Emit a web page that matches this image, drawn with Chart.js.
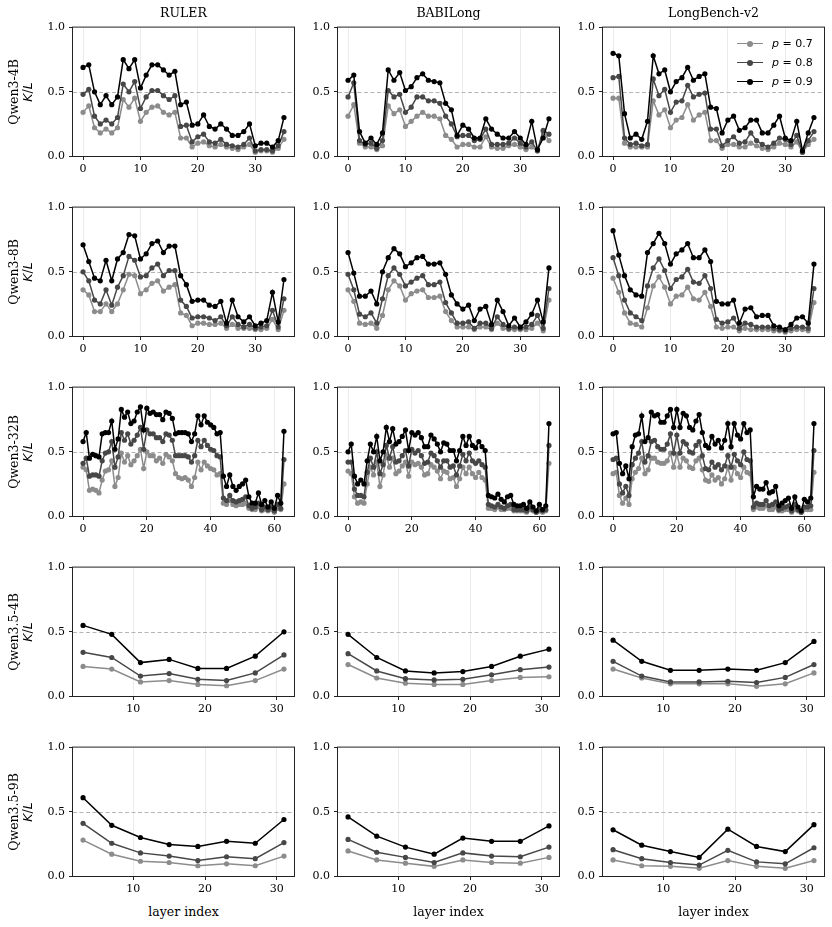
<!DOCTYPE html>
<html>
<head>
<meta charset="utf-8">
<title>K/L per layer</title>
<script src="https://cdn.jsdelivr.net/npm/chart.js@4.4.0/dist/chart.umd.min.js"></script>
<style>
  body { margin: 0; background: #fff; }
  #fig { position: relative; width: 832px; height: 927px; overflow: hidden; font-family: "DejaVu Serif", serif; color: #000; }
  #fig canvas { position: absolute; }
  .col-title { position: absolute; top: 5px; font-size: 12.5px; line-height: 16px; transform: translateX(-50%); white-space: nowrap; }
  .row-label { position: absolute; transform: translate(-50%, -50%) rotate(-90deg); white-space: nowrap; font-size: 12.5px; line-height: 14px; text-align: center; }
  .row-label .math { font-family: "DejaVu Sans", sans-serif; font-style: italic; }
  .x-label { position: absolute; top: 904px; font-size: 12.5px; line-height: 16px; transform: translateX(-50%); white-space: nowrap; }
  .legend { position: absolute; font-family: "DejaVu Sans", sans-serif; font-size: 11px; }
  .legend .item { display: flex; align-items: center; height: 19px; }
  .legend .swatch { position: relative; width: 26px; height: 10px; margin-right: 9px; }
  .legend .swatch::before { content: ""; position: absolute; left: 0; right: 0; top: 4px; height: 1.5px; background: var(--c); }
  .legend .swatch::after { content: ""; position: absolute; left: 10px; top: 2px; width: 6px; height: 6px; border-radius: 50%; background: var(--c); }
</style>
</head>
<body>
<div id="fig"></div>
<script>
/* Labels and axes */

const benchmarks = ["RULER", "BABILong", "LongBench-v2"];
const models = ["Qwen3-4B", "Qwen3-8B", "Qwen3-32B", "Qwen3.5-4B", "Qwen3.5-9B"];
const pValues = ["0.7", "0.8", "0.9"];

const layersQwen3 = [0, 1, 2, 3, 4, 5, 6, 7, 8, 9, 10, 11, 12, 13, 14, 15, 16, 17, 18, 19, 20, 21, 22, 23, 24, 25, 26, 27, 28, 29, 30, 31, 32, 33, 34, 35];
const layersQwen3_32B = [0, 1, 2, 3, 4, 5, 6, 7, 8, 9, 10, 11, 12, 13, 14, 15, 16, 17, 18, 19, 20, 21, 22, 23, 24, 25, 26, 27, 28, 29, 30, 31, 32, 33, 34, 35, 36, 37, 38, 39, 40, 41, 42, 43, 44, 45, 46, 47, 48, 49, 50, 51, 52, 53, 54, 55, 56, 57, 58, 59, 60, 61, 62, 63];
const layersQwen35 = [3, 7, 11, 15, 19, 23, 27, 31];

const xTicksQwen3 = [0, 10, 20, 30];
const xTicks32B = [0, 20, 40, 60];
const xTicksQwen35 = [10, 20, 30];
const yTicks = [0, 0.5, 1];

/* Qwen3-4B */

const ruler4b_p07 = [0.34, 0.39, 0.22, 0.18, 0.21, 0.18, 0.22, 0.44, 0.38, 0.45, 0.27, 0.34, 0.38, 0.39, 0.34, 0.32, 0.34, 0.14, 0.14, 0.07, 0.10, 0.11, 0.08, 0.07, 0.09, 0.07, 0.06, 0.05, 0.07, 0.09, 0.03, 0.04, 0.04, 0.03, 0.06, 0.13];
const ruler4b_p08 = [0.48, 0.52, 0.31, 0.25, 0.28, 0.25, 0.30, 0.56, 0.50, 0.58, 0.37, 0.46, 0.51, 0.51, 0.47, 0.44, 0.47, 0.23, 0.24, 0.11, 0.15, 0.17, 0.11, 0.10, 0.13, 0.09, 0.08, 0.07, 0.09, 0.14, 0.04, 0.05, 0.05, 0.04, 0.08, 0.19];
const ruler4b_p09 = [0.69, 0.71, 0.50, 0.40, 0.47, 0.40, 0.46, 0.75, 0.68, 0.75, 0.53, 0.63, 0.71, 0.71, 0.67, 0.63, 0.66, 0.40, 0.42, 0.24, 0.25, 0.32, 0.23, 0.21, 0.25, 0.21, 0.16, 0.16, 0.19, 0.25, 0.08, 0.10, 0.10, 0.07, 0.12, 0.30];

const babi4b_p07 = [0.31, 0.40, 0.10, 0.07, 0.07, 0.05, 0.08, 0.39, 0.33, 0.36, 0.23, 0.27, 0.31, 0.34, 0.31, 0.31, 0.29, 0.16, 0.13, 0.07, 0.09, 0.09, 0.07, 0.07, 0.15, 0.07, 0.06, 0.06, 0.08, 0.09, 0.07, 0.05, 0.07, 0.04, 0.19, 0.12];
const babi4b_p08 = [0.46, 0.57, 0.12, 0.09, 0.10, 0.06, 0.12, 0.51, 0.46, 0.48, 0.34, 0.38, 0.46, 0.46, 0.43, 0.43, 0.41, 0.31, 0.25, 0.15, 0.16, 0.16, 0.12, 0.13, 0.21, 0.09, 0.09, 0.09, 0.10, 0.14, 0.10, 0.07, 0.11, 0.04, 0.20, 0.17];
const babi4b_p09 = [0.59, 0.63, 0.19, 0.10, 0.14, 0.09, 0.18, 0.67, 0.59, 0.65, 0.51, 0.54, 0.61, 0.64, 0.59, 0.58, 0.57, 0.41, 0.36, 0.16, 0.24, 0.21, 0.14, 0.14, 0.29, 0.21, 0.17, 0.14, 0.14, 0.19, 0.14, 0.09, 0.27, 0.05, 0.14, 0.29];

const lb4b_p07 = [0.45, 0.45, 0.10, 0.07, 0.07, 0.07, 0.07, 0.43, 0.32, 0.36, 0.22, 0.28, 0.30, 0.40, 0.28, 0.32, 0.34, 0.12, 0.12, 0.06, 0.09, 0.09, 0.07, 0.07, 0.10, 0.08, 0.06, 0.05, 0.07, 0.10, 0.09, 0.07, 0.11, 0.03, 0.09, 0.13];
const lb4b_p08 = [0.61, 0.62, 0.14, 0.09, 0.10, 0.08, 0.09, 0.60, 0.47, 0.52, 0.34, 0.42, 0.43, 0.55, 0.46, 0.48, 0.49, 0.21, 0.21, 0.08, 0.12, 0.15, 0.10, 0.11, 0.18, 0.12, 0.09, 0.07, 0.10, 0.14, 0.13, 0.09, 0.16, 0.03, 0.12, 0.19];
const lb4b_p09 = [0.80, 0.78, 0.33, 0.14, 0.17, 0.13, 0.27, 0.78, 0.64, 0.67, 0.50, 0.58, 0.61, 0.69, 0.59, 0.62, 0.64, 0.38, 0.37, 0.18, 0.28, 0.31, 0.20, 0.22, 0.28, 0.28, 0.18, 0.18, 0.24, 0.31, 0.14, 0.12, 0.27, 0.04, 0.18, 0.30];

/* Qwen3-8B */

const ruler8b_p07 = [0.36, 0.32, 0.19, 0.19, 0.25, 0.19, 0.25, 0.36, 0.48, 0.47, 0.33, 0.36, 0.41, 0.43, 0.35, 0.38, 0.40, 0.18, 0.16, 0.08, 0.10, 0.10, 0.09, 0.09, 0.10, 0.06, 0.09, 0.06, 0.06, 0.06, 0.05, 0.05, 0.06, 0.13, 0.05, 0.20];
const ruler8b_p08 = [0.50, 0.43, 0.28, 0.25, 0.36, 0.24, 0.38, 0.47, 0.62, 0.59, 0.46, 0.47, 0.53, 0.56, 0.47, 0.51, 0.51, 0.28, 0.23, 0.14, 0.15, 0.15, 0.14, 0.12, 0.15, 0.08, 0.15, 0.09, 0.07, 0.09, 0.06, 0.07, 0.08, 0.20, 0.07, 0.29];
const ruler8b_p09 = [0.71, 0.58, 0.45, 0.43, 0.59, 0.43, 0.60, 0.65, 0.79, 0.78, 0.60, 0.64, 0.72, 0.74, 0.65, 0.70, 0.70, 0.47, 0.40, 0.27, 0.28, 0.28, 0.24, 0.23, 0.27, 0.10, 0.28, 0.15, 0.11, 0.15, 0.08, 0.10, 0.12, 0.34, 0.11, 0.44];

const babi8b_p07 = [0.36, 0.27, 0.10, 0.09, 0.10, 0.06, 0.16, 0.36, 0.43, 0.39, 0.28, 0.33, 0.35, 0.36, 0.30, 0.30, 0.31, 0.19, 0.12, 0.07, 0.07, 0.07, 0.05, 0.07, 0.07, 0.05, 0.10, 0.06, 0.05, 0.05, 0.05, 0.05, 0.06, 0.10, 0.04, 0.28];
const babi8b_p08 = [0.48, 0.36, 0.17, 0.15, 0.18, 0.10, 0.29, 0.47, 0.53, 0.48, 0.39, 0.42, 0.45, 0.47, 0.40, 0.40, 0.42, 0.26, 0.18, 0.10, 0.10, 0.11, 0.06, 0.10, 0.10, 0.06, 0.15, 0.09, 0.06, 0.07, 0.06, 0.07, 0.09, 0.16, 0.06, 0.37];
const babi8b_p09 = [0.65, 0.49, 0.31, 0.31, 0.35, 0.25, 0.50, 0.61, 0.68, 0.64, 0.54, 0.57, 0.61, 0.62, 0.56, 0.56, 0.57, 0.48, 0.32, 0.25, 0.21, 0.24, 0.12, 0.21, 0.23, 0.09, 0.28, 0.19, 0.08, 0.14, 0.07, 0.11, 0.17, 0.28, 0.11, 0.53];

const lb8b_p07 = [0.45, 0.34, 0.18, 0.10, 0.09, 0.07, 0.22, 0.39, 0.46, 0.38, 0.25, 0.31, 0.32, 0.38, 0.29, 0.28, 0.34, 0.23, 0.07, 0.06, 0.07, 0.07, 0.04, 0.06, 0.05, 0.05, 0.05, 0.05, 0.04, 0.04, 0.03, 0.04, 0.05, 0.05, 0.04, 0.26];
const lb8b_p08 = [0.61, 0.47, 0.28, 0.18, 0.15, 0.12, 0.39, 0.53, 0.60, 0.51, 0.37, 0.44, 0.46, 0.52, 0.42, 0.41, 0.47, 0.37, 0.13, 0.10, 0.11, 0.14, 0.06, 0.10, 0.09, 0.07, 0.07, 0.07, 0.06, 0.05, 0.04, 0.06, 0.07, 0.07, 0.06, 0.37];
const lb8b_p09 = [0.82, 0.63, 0.47, 0.36, 0.32, 0.31, 0.65, 0.72, 0.80, 0.72, 0.56, 0.64, 0.67, 0.72, 0.61, 0.61, 0.67, 0.58, 0.27, 0.25, 0.25, 0.28, 0.10, 0.21, 0.22, 0.15, 0.16, 0.16, 0.08, 0.07, 0.05, 0.09, 0.14, 0.15, 0.10, 0.56];

/* Qwen3-32B */

const ruler32b_p07 = [0.38, 0.36, 0.20, 0.21, 0.20, 0.18, 0.28, 0.35, 0.36, 0.43, 0.23, 0.30, 0.49, 0.42, 0.47, 0.40, 0.43, 0.47, 0.52, 0.37, 0.50, 0.47, 0.47, 0.43, 0.45, 0.41, 0.48, 0.46, 0.43, 0.33, 0.30, 0.29, 0.30, 0.28, 0.23, 0.30, 0.42, 0.36, 0.42, 0.39, 0.37, 0.36, 0.32, 0.33, 0.10, 0.09, 0.12, 0.09, 0.08, 0.09, 0.09, 0.10, 0.06, 0.05, 0.05, 0.07, 0.04, 0.05, 0.04, 0.05, 0.03, 0.06, 0.05, 0.25];
const ruler32b_p08 = [0.41, 0.45, 0.31, 0.32, 0.32, 0.31, 0.43, 0.49, 0.50, 0.58, 0.38, 0.46, 0.65, 0.59, 0.64, 0.56, 0.59, 0.63, 0.69, 0.52, 0.67, 0.64, 0.64, 0.61, 0.61, 0.58, 0.64, 0.63, 0.59, 0.47, 0.47, 0.47, 0.47, 0.46, 0.42, 0.47, 0.59, 0.54, 0.59, 0.55, 0.52, 0.51, 0.47, 0.46, 0.14, 0.12, 0.16, 0.12, 0.11, 0.12, 0.13, 0.15, 0.08, 0.06, 0.07, 0.10, 0.05, 0.07, 0.05, 0.07, 0.04, 0.09, 0.06, 0.44];
const ruler32b_p09 = [0.58, 0.65, 0.45, 0.48, 0.47, 0.46, 0.64, 0.65, 0.65, 0.74, 0.52, 0.60, 0.83, 0.77, 0.81, 0.72, 0.74, 0.81, 0.85, 0.67, 0.84, 0.80, 0.81, 0.79, 0.79, 0.75, 0.81, 0.80, 0.76, 0.64, 0.65, 0.65, 0.65, 0.64, 0.58, 0.64, 0.78, 0.71, 0.78, 0.73, 0.71, 0.69, 0.64, 0.65, 0.31, 0.23, 0.32, 0.23, 0.20, 0.23, 0.25, 0.28, 0.15, 0.10, 0.10, 0.18, 0.09, 0.12, 0.07, 0.11, 0.06, 0.16, 0.10, 0.66];

const babi32b_p07 = [0.35, 0.33, 0.15, 0.10, 0.11, 0.10, 0.25, 0.38, 0.32, 0.42, 0.23, 0.32, 0.47, 0.38, 0.45, 0.33, 0.35, 0.39, 0.42, 0.31, 0.42, 0.40, 0.41, 0.38, 0.32, 0.33, 0.40, 0.38, 0.35, 0.29, 0.35, 0.34, 0.29, 0.30, 0.23, 0.29, 0.38, 0.33, 0.38, 0.33, 0.30, 0.34, 0.30, 0.28, 0.06, 0.06, 0.05, 0.07, 0.05, 0.05, 0.06, 0.06, 0.04, 0.04, 0.04, 0.04, 0.03, 0.05, 0.04, 0.03, 0.04, 0.03, 0.04, 0.41];
const babi32b_p08 = [0.42, 0.42, 0.21, 0.16, 0.16, 0.15, 0.34, 0.45, 0.38, 0.50, 0.33, 0.40, 0.55, 0.45, 0.54, 0.42, 0.43, 0.47, 0.51, 0.39, 0.52, 0.49, 0.51, 0.47, 0.41, 0.42, 0.49, 0.47, 0.43, 0.38, 0.43, 0.43, 0.38, 0.39, 0.32, 0.39, 0.48, 0.43, 0.49, 0.43, 0.41, 0.43, 0.40, 0.38, 0.09, 0.08, 0.07, 0.09, 0.07, 0.06, 0.08, 0.09, 0.05, 0.05, 0.05, 0.05, 0.04, 0.07, 0.05, 0.03, 0.05, 0.04, 0.05, 0.55];
const babi32b_p09 = [0.50, 0.56, 0.31, 0.25, 0.28, 0.25, 0.43, 0.56, 0.50, 0.62, 0.43, 0.50, 0.69, 0.58, 0.68, 0.56, 0.58, 0.62, 0.67, 0.51, 0.65, 0.63, 0.65, 0.61, 0.54, 0.54, 0.63, 0.60, 0.56, 0.50, 0.57, 0.56, 0.51, 0.51, 0.43, 0.51, 0.62, 0.55, 0.62, 0.55, 0.53, 0.58, 0.54, 0.51, 0.16, 0.15, 0.14, 0.17, 0.13, 0.11, 0.15, 0.16, 0.09, 0.08, 0.08, 0.09, 0.06, 0.11, 0.07, 0.04, 0.09, 0.05, 0.08, 0.72];

const lb32b_p07 = [0.33, 0.34, 0.16, 0.10, 0.14, 0.09, 0.29, 0.34, 0.37, 0.45, 0.33, 0.36, 0.45, 0.45, 0.42, 0.41, 0.41, 0.43, 0.49, 0.38, 0.48, 0.38, 0.45, 0.43, 0.38, 0.37, 0.43, 0.45, 0.36, 0.28, 0.27, 0.32, 0.28, 0.30, 0.25, 0.29, 0.38, 0.28, 0.38, 0.33, 0.30, 0.38, 0.34, 0.33, 0.05, 0.07, 0.06, 0.06, 0.08, 0.05, 0.05, 0.07, 0.04, 0.04, 0.05, 0.05, 0.03, 0.05, 0.04, 0.03, 0.05, 0.05, 0.05, 0.34];
const lb32b_p08 = [0.44, 0.45, 0.25, 0.18, 0.23, 0.16, 0.40, 0.45, 0.49, 0.58, 0.42, 0.47, 0.58, 0.59, 0.54, 0.52, 0.52, 0.56, 0.64, 0.49, 0.63, 0.49, 0.58, 0.56, 0.50, 0.49, 0.55, 0.58, 0.47, 0.37, 0.36, 0.42, 0.38, 0.40, 0.36, 0.39, 0.47, 0.38, 0.48, 0.43, 0.40, 0.50, 0.44, 0.43, 0.07, 0.10, 0.09, 0.09, 0.12, 0.08, 0.09, 0.11, 0.05, 0.06, 0.07, 0.08, 0.04, 0.09, 0.05, 0.03, 0.07, 0.07, 0.08, 0.51];
const lb32b_p09 = [0.64, 0.65, 0.41, 0.33, 0.39, 0.29, 0.54, 0.63, 0.64, 0.78, 0.58, 0.61, 0.81, 0.78, 0.79, 0.73, 0.73, 0.78, 0.83, 0.69, 0.83, 0.69, 0.80, 0.78, 0.69, 0.67, 0.74, 0.79, 0.65, 0.55, 0.53, 0.62, 0.56, 0.59, 0.53, 0.59, 0.72, 0.54, 0.72, 0.63, 0.60, 0.72, 0.65, 0.67, 0.15, 0.23, 0.21, 0.21, 0.26, 0.18, 0.19, 0.23, 0.08, 0.10, 0.12, 0.14, 0.06, 0.15, 0.07, 0.04, 0.13, 0.11, 0.14, 0.72];

/* Qwen3.5-4B */

const ruler35_4b_p07 = [0.23, 0.21, 0.11, 0.12, 0.09, 0.08, 0.12, 0.21];
const ruler35_4b_p08 = [0.34, 0.30, 0.155, 0.175, 0.13, 0.12, 0.18, 0.32];
const ruler35_4b_p09 = [0.55, 0.48, 0.26, 0.285, 0.215, 0.215, 0.31, 0.50];

const babi35_4b_p07 = [0.245, 0.14, 0.10, 0.09, 0.09, 0.12, 0.145, 0.15];
const babi35_4b_p08 = [0.33, 0.195, 0.135, 0.125, 0.13, 0.165, 0.205, 0.225];
const babi35_4b_p09 = [0.48, 0.30, 0.195, 0.18, 0.19, 0.23, 0.31, 0.365];

const lb35_4b_p07 = [0.21, 0.14, 0.095, 0.095, 0.095, 0.075, 0.095, 0.18];
const lb35_4b_p08 = [0.27, 0.155, 0.11, 0.11, 0.115, 0.105, 0.145, 0.245];
const lb35_4b_p09 = [0.435, 0.27, 0.20, 0.20, 0.21, 0.20, 0.26, 0.425];

/* Qwen3.5-9B */

const ruler35_9b_p07 = [0.28, 0.17, 0.115, 0.105, 0.08, 0.095, 0.08, 0.155];
const ruler35_9b_p08 = [0.41, 0.255, 0.18, 0.155, 0.12, 0.15, 0.135, 0.26];
const ruler35_9b_p09 = [0.61, 0.395, 0.30, 0.245, 0.23, 0.27, 0.255, 0.44];

const babi35_9b_p07 = [0.195, 0.125, 0.10, 0.075, 0.125, 0.105, 0.10, 0.145];
const babi35_9b_p08 = [0.285, 0.185, 0.145, 0.105, 0.18, 0.155, 0.15, 0.225];
const babi35_9b_p09 = [0.46, 0.31, 0.225, 0.17, 0.295, 0.27, 0.27, 0.39];

const lb35_9b_p07 = [0.125, 0.08, 0.075, 0.06, 0.12, 0.075, 0.06, 0.12];
const lb35_9b_p08 = [0.205, 0.135, 0.105, 0.085, 0.20, 0.11, 0.095, 0.22];
const lb35_9b_p09 = [0.36, 0.24, 0.19, 0.145, 0.365, 0.23, 0.19, 0.40];

/* Figure grid */

const rows = [
  { layers: layersQwen3, xTicks: xTicksQwen3, xMin: -1.75, xMax: 36.75,
    series: [[ruler4b_p07, ruler4b_p08, ruler4b_p09], [babi4b_p07, babi4b_p08, babi4b_p09], [lb4b_p07, lb4b_p08, lb4b_p09]] },
  { layers: layersQwen3, xTicks: xTicksQwen3, xMin: -1.75, xMax: 36.75,
    series: [[ruler8b_p07, ruler8b_p08, ruler8b_p09], [babi8b_p07, babi8b_p08, babi8b_p09], [lb8b_p07, lb8b_p08, lb8b_p09]] },
  { layers: layersQwen3_32B, xTicks: xTicks32B, xMin: -3.15, xMax: 66.15,
    series: [[ruler32b_p07, ruler32b_p08, ruler32b_p09], [babi32b_p07, babi32b_p08, babi32b_p09], [lb32b_p07, lb32b_p08, lb32b_p09]] },
  { layers: layersQwen35, xTicks: xTicksQwen35, xMin: 1.6, xMax: 32.4,
    series: [[ruler35_4b_p07, ruler35_4b_p08, ruler35_4b_p09], [babi35_4b_p07, babi35_4b_p08, babi35_4b_p09], [lb35_4b_p07, lb35_4b_p08, lb35_4b_p09]] },
  { layers: layersQwen35, xTicks: xTicksQwen35, xMin: 1.6, xMax: 32.4,
    series: [[ruler35_9b_p07, ruler35_9b_p08, ruler35_9b_p09], [babi35_9b_p07, babi35_9b_p08, babi35_9b_p09], [lb35_9b_p07, lb35_9b_p08, lb35_9b_p09]] },
];

const seriesColors = ["#8c8c8c", "#474747", "#000000"];

const plotLefts = [73, 338, 603];
const plotWidth = 221;
const plotHeight = 129;
const rowStep = 180;
const firstTop = 27;
const padLeft = 44;
const padTop = 10;
const padRight = 10;
const padBottom = 28;

const fig = document.getElementById("fig");

/* Dashed 0.5 reference line and the full box around each panel */

const panelDecor = {
  id: "panelDecor",
  beforeDatasetsDraw(chart) {
    const { ctx, chartArea } = chart;
    const y = Math.round(chart.scales.y.getPixelForValue(0.5)) + 0.5;
    ctx.save();
    ctx.strokeStyle = "#b4b4b4";
    ctx.lineWidth = 1;
    ctx.setLineDash([4, 2.5]);
    ctx.beginPath();
    ctx.moveTo(chartArea.left, y);
    ctx.lineTo(chartArea.right, y);
    ctx.stroke();
    ctx.restore();
  },
  afterDraw(chart) {
    const { ctx, chartArea } = chart;
    ctx.save();
    ctx.strokeStyle = "#222";
    ctx.lineWidth = 1;
    ctx.strokeRect(chartArea.left - 0.5, chartArea.top - 0.5, chartArea.right - chartArea.left + 1, chartArea.bottom - chartArea.top + 1);
    ctx.restore();
  },
};

const tickFont = { family: "DejaVu Serif", size: 11 };

function makePanel(r, c) {
  const row = rows[r];
  const canvas = document.createElement("canvas");
  const w = padLeft + plotWidth + padRight;
  const h = padTop + plotHeight + padBottom;
  canvas.width = w;
  canvas.height = h;
  canvas.style.left = plotLefts[c] - padLeft + "px";
  canvas.style.top = firstTop + rowStep * r - padTop + "px";
  fig.appendChild(canvas);

  // highest p first so that it is drawn on top
  const datasets = [2, 1, 0].map((k) => ({
    label: "p = " + pValues[k],
    data: row.layers.map((x, i) => ({ x: x, y: row.series[c][k][i] })),
    borderColor: seriesColors[k],
    backgroundColor: seriesColors[k],
    pointBackgroundColor: seriesColors[k],
    pointBorderWidth: 0,
    pointRadius: 2.6,
    pointHoverRadius: 2.6,
    borderWidth: 1.5,
    tension: 0,
  }));

  new Chart(canvas, {
    type: "line",
    data: { datasets: datasets },
    options: {
      responsive: false,
      animation: false,
      events: [],
      layout: { padding: { left: 0, top: padTop, right: padRight, bottom: 0 } },
      plugins: { legend: { display: false }, tooltip: { enabled: false } },
      scales: {
        x: {
          type: "linear",
          min: row.xMin,
          max: row.xMax,
          afterBuildTicks: (axis) => {
            axis.ticks = row.xTicks.map((v) => ({ value: v }));
          },
          afterFit: (axis) => {
            axis.height = padBottom;
          },
          ticks: {
            font: tickFont,
            color: "#000",
            padding: 3,
            maxRotation: 0,
            callback: (v) => String(v),
          },
          grid: {
            color: "#ebebeb",
            lineWidth: 1,
            drawTicks: true,
            tickLength: 4,
            tickColor: "#222",
          },
          border: { display: false },
        },
        y: {
          min: 0,
          max: 1,
          afterBuildTicks: (axis) => {
            axis.ticks = yTicks.map((v) => ({ value: v }));
          },
          afterFit: (axis) => {
            axis.width = padLeft;
          },
          ticks: {
            font: tickFont,
            color: "#000",
            padding: 4,
            callback: (v) => v.toFixed(1),
          },
          grid: {
            drawOnChartArea: false,
            drawTicks: true,
            tickLength: 4,
            tickColor: "#222",
          },
          border: { display: false },
        },
      },
    },
    plugins: [panelDecor],
  });
}

for (let r = 0; r < rows.length; r++) {
  for (let c = 0; c < benchmarks.length; c++) {
    makePanel(r, c);
  }
}

/* Titles, row labels, x labels and legend */

benchmarks.forEach((name, c) => {
  const div = document.createElement("div");
  div.className = "col-title";
  div.style.left = plotLefts[c] + plotWidth / 2 + "px";
  div.textContent = name;
  fig.appendChild(div);

  const xl = document.createElement("div");
  xl.className = "x-label";
  xl.style.left = plotLefts[c] + plotWidth / 2 + "px";
  xl.textContent = "layer index";
  fig.appendChild(xl);
});

models.forEach((name, r) => {
  const div = document.createElement("div");
  div.className = "row-label";
  div.style.left = "21px";
  div.style.top = firstTop + rowStep * r + plotHeight / 2 + "px";
  div.innerHTML = name + '<br><span class="math">K</span>/<span class="math">L</span>';
  fig.appendChild(div);
});

const legend = document.createElement("div");
legend.className = "legend";
legend.style.left = "737px";
legend.style.top = "34px";
pValues.forEach((p, k) => {
  const item = document.createElement("div");
  item.className = "item";
  item.innerHTML = '<span class="swatch" style="--c:' + seriesColors[k] + '"></span><span><i>p</i> = ' + p + "</span>";
  legend.appendChild(item);
});
fig.appendChild(legend);
</script>
</body>
</html>
